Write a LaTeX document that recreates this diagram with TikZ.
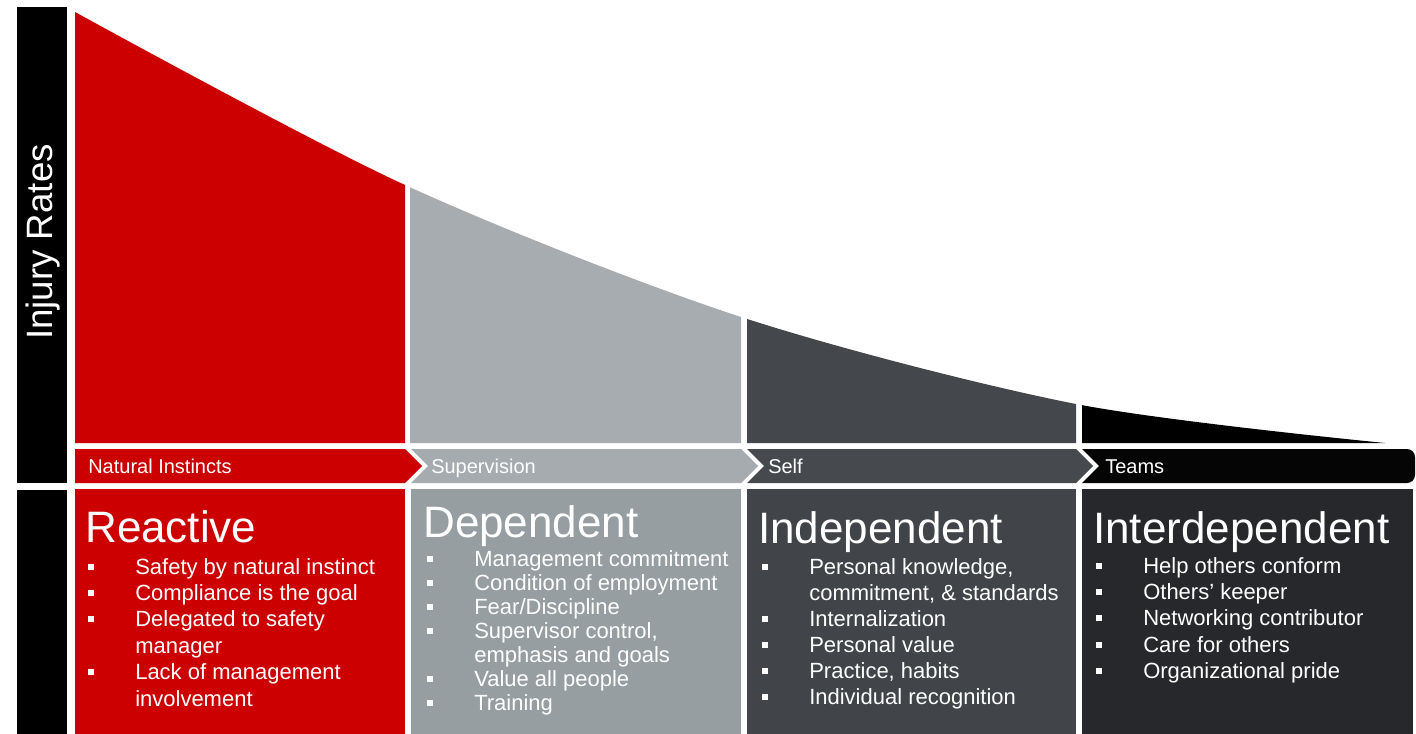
\documentclass[tikz,border=0pt]{standalone}
\usepackage{fontspec}
\setmainfont{Liberation Sans}
\usepackage{array}
\definecolor{redc}{HTML}{CC0000}
\definecolor{graytop}{HTML}{A7ACB1}
\definecolor{grayband}{HTML}{A6ABAF}
\definecolor{graybox}{HTML}{969EA1}
\definecolor{darktop}{HTML}{44474C}
\definecolor{darkband}{HTML}{46494E}
\definecolor{darkbox}{HTML}{414449}
\definecolor{blacktop}{HTML}{000000}
\definecolor{blackband}{HTML}{050505}
\definecolor{blackbox}{HTML}{26282B}
\newcommand{\bsq}{\rule[3.3pt]{4.5pt}{4.5pt}}
\newcolumntype{B}{@{}p{35.25pt}@{}l@{}}
\begin{document}
\begin{tikzpicture}[x=0.75pt,y=-0.75pt,
  lbl/.style={anchor=base west, inner sep=0pt, text=white},
  head/.style={lbl, font=\fontsize{33}{36}\selectfont},
  bandlbl/.style={lbl, font=\fontsize{15}{18}\selectfont},
  curvepath/.style={insert path={(75,443) -- (75,12) -- plot[smooth] coordinates {(75,12) (405,185) (741,317) (1076,404) (1385,443)} -- cycle}}]
\useasboundingbox[fill=white] (0,0) rectangle (1416,734);

% left axis bar
\fill[black] (17,7) rectangle (67,483);
\fill[black] (17,490) rectangle (67,734);
\node[rotate=90, text=white, inner sep=0pt, font=\fontsize{27.5}{30}\selectfont] (ylabel) at (43,242) {Injury Rates};

% curve columns
\begin{scope}\clip (75,0) rectangle (405,443); \fill[redc, curvepath]; \end{scope}
\begin{scope}\clip (410,0) rectangle (741,443); \fill[graytop, curvepath]; \end{scope}
\begin{scope}\clip (747,0) rectangle (1076,443); \fill[darktop, curvepath]; \end{scope}
\begin{scope}\clip (1082,0) rectangle (1416,443); \fill[blacktop, curvepath]; \end{scope}

% band chevrons
\fill[redc] (75,449) -- (405,449) -- (422,466) -- (405,483) -- (75,483) -- cycle;
\fill[grayband] (411,449) -- (741,449) -- (758,466) -- (741,483) -- (411,483) -- (428,466) -- cycle;
\fill[darkband] (747,449) -- (1076,449) -- (1093,466) -- (1076,483) -- (747,483) -- (764,466) -- cycle;
\fill[blackband] (1082,449) [rounded corners=6pt]-- (1415,449) -- (1415,483) [sharp corners]-- (1082,483) -- (1099,466) -- cycle;

\node[bandlbl] (b1) at (88,473) {Natural Instincts};
\node[bandlbl] (b2) at (431,473) {Supervision};
\node[bandlbl] (b3) at (768,473) {Self};
\node[bandlbl] (b4) at (1105,473) {Teams};

% bottom boxes
\fill[redc] (75,489) rectangle (405,734);
\fill[graybox] (411,489) rectangle (741,734);
\fill[darkbox] (747,489) rectangle (1076,734);
\fill[blackbox] (1082,489) rectangle (1413,734);

% headings
\node[head] (h1) at (85,542) {Reactive};
\node[head] (h2) at (423,537) {Dependent};
\node[head] (h3) at (758,543) {Independent};
\node[head] (h4) at (1093,543) {Interdependent};

% lists
\node[lbl] (l1) at (88,574) {\fontsize{16.5}{19.8}\selectfont
\begin{tabular}[t]{B}
\bsq & Safety by natural instinct\\
\bsq & Compliance is the goal\\
\bsq & Delegated to safety\\
 & manager\\
\bsq & Lack of management\\
 & involvement
\end{tabular}};
\node[lbl] (l2) at (427,566) {\fontsize{16.5}{18}\selectfont
\begin{tabular}[t]{B}
\bsq & Management commitment\\
\bsq & Condition of employment\\
\bsq & Fear/Discipline\\
\bsq & Supervisor control,\\
 & emphasis and goals\\
\bsq & Value all people\\
\bsq & Training
\end{tabular}};
\node[lbl] (l3) at (762,574) {\fontsize{16.5}{19.6}\selectfont
\begin{tabular}[t]{B}
\bsq & Personal knowledge,\\
 & commitment, \& standards\\
\bsq & Internalization\\
\bsq & Personal value\\
\bsq & Practice, habits\\
\bsq & Individual recognition
\end{tabular}};
\node[lbl] (l4) at (1096,573) {\fontsize{16.5}{19.8}\selectfont
\begin{tabular}[t]{B}
\bsq & Help others conform\\
\bsq & Others' keeper\\
\bsq & Networking contributor\\
\bsq & Care for others\\
\bsq & Organizational pride
\end{tabular}};
\end{tikzpicture}
\end{document}
